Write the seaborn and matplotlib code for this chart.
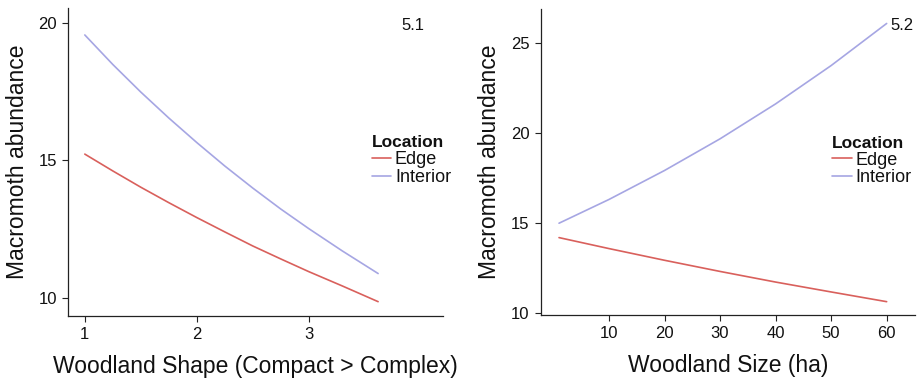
import matplotlib

matplotlib.use("Agg")

import matplotlib.pyplot as plt
import pandas as pd
import seaborn as sns

# Panel 5.1: abundance vs woodland shape
shape_x = [1.0, 1.25, 1.5, 1.75, 2.0, 2.25, 2.5, 2.75, 3.0, 3.3, 3.62]
shape_edge = [15.23, 14.62, 14.03, 13.47, 12.93, 12.41, 11.90, 11.43, 10.97, 10.45, 9.88]
shape_interior = [19.55, 18.48, 17.48, 16.54, 15.65, 14.80, 14.00, 13.24, 12.53, 11.72, 10.90]

# Panel 5.2: abundance vs woodland size
size_x = [1, 10, 20, 30, 40, 50, 60]
size_edge = [14.20, 13.59, 12.94, 12.32, 11.73, 11.18, 10.64]
size_interior = [15.00, 16.32, 17.93, 19.69, 21.63, 23.76, 26.10]

locations = ["Edge", "Interior"]
colors = {"Edge": "#D9605C", "Interior": "#A6A6E3"}


def long_frame(x, edge, interior):
    return pd.DataFrame({
        "x": list(x) + list(x),
        "y": list(edge) + list(interior),
        "Location": ["Edge"] * len(x) + ["Interior"] * len(x),
    })


sns.set_theme(style="ticks")
plt.rcParams["font.family"] = ["Liberation Sans", "DejaVu Sans"]
plt.rcParams["text.color"] = "#111111"
plt.rcParams["axes.labelcolor"] = "#111111"

fig = plt.figure(figsize=(9.23, 3.78), dpi=100)
ax1 = fig.add_axes([0.0737, 0.164, 0.4063, 0.815])
ax2 = fig.add_axes([0.5858, 0.1667, 0.4055, 0.8093])

panels = [
    (ax1, long_frame(shape_x, shape_edge, shape_interior),
     "Woodland Shape (Compact > Complex)", "5.1"),
    (ax2, long_frame(size_x, size_edge, size_interior),
     "Woodland Size (ha)", "5.2"),
]

for ax, df, xlabel, tag in panels:
    sns.lineplot(data=df, x="x", y="y", hue="Location", hue_order=locations,
                 palette=colors, linewidth=1.2, ax=ax)
    ax.set_xlabel(xlabel, fontsize=16.5, labelpad=9)
    ax.set_ylabel("Macromoth abundance", fontsize=16.5, labelpad=7)
    ax.tick_params(labelsize=12, length=4, width=0.8, color="#222222",
                   labelcolor="#111111", pad=4)
    for side in ["left", "bottom"]:
        ax.spines[side].set_linewidth(0.9)
        ax.spines[side].set_color("#222222")
    sns.despine(ax=ax)
    leg = ax.legend(title="Location", loc="upper left", frameon=False,
                    fontsize=13, title_fontproperties={"weight": "bold", "size": 12.5},
                    handlelength=1.1, handletextpad=0.2, labelspacing=0.05,
                    borderaxespad=0)
    leg._legend_box.align = "left"

ax1.set_xlim(0.85, 4.2)
ax1.set_ylim(9.36, 20.53)
ax1.set_xticks([1, 2, 3])
ax1.set_yticks([10, 15, 20])
ax1.legend_.set_bbox_to_anchor((0.79, 0.61), transform=ax1.transAxes)
ax1.text(3.93, 19.9, "5.1", fontsize=12, ha="center", va="center")

ax2.set_xlim(-2.3, 65.1)
ax2.set_ylim(9.9, 26.9)
ax2.set_xticks([10, 20, 30, 40, 50, 60])
ax2.set_yticks([10, 15, 20, 25])
ax2.legend_.set_bbox_to_anchor((0.76, 0.61), transform=ax2.transAxes)
ax2.text(62.7, 26.0, "5.2", fontsize=12, ha="center", va="center")

fig.savefig("out.png", dpi=100)
plt.close(fig)
